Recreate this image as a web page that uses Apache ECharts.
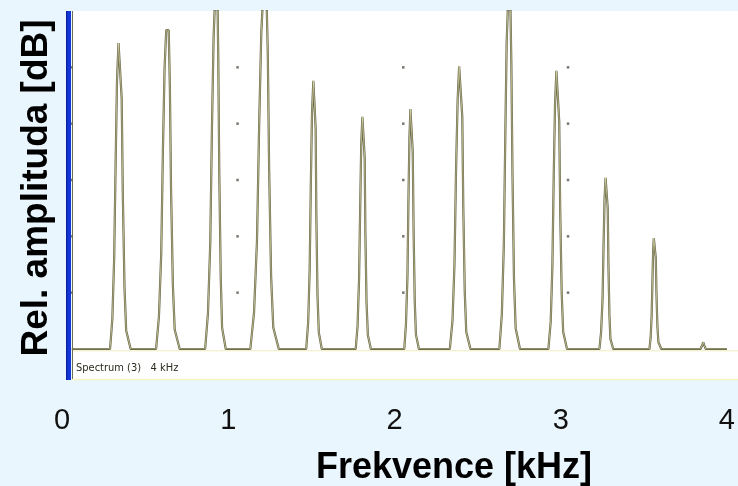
<!DOCTYPE html>
<html>
<head>
<meta charset="utf-8">
<script src="https://cdn.jsdelivr.net/npm/echarts@6/dist/echarts.min.js"></script>
<style>
html,body{margin:0;padding:0;background:#eaf6fd;}
#chart{width:738px;height:486px;}
</style>
</head>
<body>
<div id="chart"></div>
<script>
// Spectrum trace: frequency (kHz) and relative amplitude (dB above floor)
var freqKHz = [
  0.059,
  0.289,0.303,0.314,0.323,0.331,0.340,0.352,0.359,0.366,0.376,0.386,0.413,
  0.566,0.583,0.597,0.607,0.617,0.627,0.642,0.649,0.656,0.667,0.678,0.708,
  0.861,0.878,0.892,0.902,0.912,0.922,0.935,0.940,0.946,0.955,0.963,0.985,
  1.133,1.155,1.173,1.186,1.199,1.212,1.229,1.238,1.246,1.258,1.271,1.304,
  1.469,1.481,1.490,1.497,1.504,1.512,1.521,1.526,1.530,1.537,1.545,1.563,
  1.767,1.778,1.787,1.794,1.800,1.807,1.816,1.821,1.825,1.832,1.840,1.858,
  2.059,2.069,2.078,2.084,2.090,2.096,2.105,2.110,2.115,2.122,2.129,2.147,
  2.333,2.349,2.361,2.370,2.380,2.389,2.401,2.408,2.414,2.423,2.432,2.457,
  2.631,2.646,2.658,2.667,2.675,2.684,2.697,2.703,2.710,2.719,2.729,2.755,
  2.926,2.940,2.950,2.958,2.966,2.974,2.985,2.991,2.997,3.006,3.015,3.038,
  3.233,3.243,3.252,3.258,3.264,3.270,3.278,3.283,3.287,3.293,3.299,3.316,
  3.534,3.541,3.547,3.552,3.556,3.560,3.568,3.572,3.576,3.582,3.588,3.605,
  3.841,3.853,3.858,3.864,3.873,
  4.000
];
var ampDb = [
  0,
  0,5.4,16.3,33.7,47.8,54.3,54.3,44.5,27.2,10.9,3.3,0,
  0,5.7,17.0,35.1,49.8,56.6,56.6,46.4,28.3,11.3,3.4,0,
  0,6.3,18.9,39.1,55.4,63.0,63.0,51.7,31.5,12.6,3.8,0,
  0,6.4,19.2,39.7,56.3,64.0,64.0,52.5,32.0,12.8,3.8,0,
  0,4.8,14.3,29.5,41.9,47.6,47.6,39.0,23.8,9.5,2.9,0,
  0,4.1,12.4,25.5,36.3,41.2,41.2,33.8,20.6,8.2,2.5,0,
  0,4.3,12.8,26.4,37.5,42.6,42.6,34.9,21.3,8.5,2.6,0,
  0,5.0,15.1,31.1,44.2,50.2,50.2,41.2,25.1,10.0,3.0,0,
  0,6.2,18.6,38.4,54.6,62.0,62.0,50.8,31.0,12.4,3.7,0,
  0,4.9,14.8,30.6,43.5,49.4,49.4,40.5,24.7,9.9,3.0,0,
  0,3.0,9.1,18.8,26.8,30.4,30.4,24.9,15.2,6.1,1.8,0,
  0,2.0,5.9,12.2,17.3,19.7,19.7,16.2,9.9,3.9,1.2,0,
  0,0.8,1.2,0.6,0,
  0
];
// Grid marker dots of the analyser display
var dotKHz = [0.059, 1.056, 2.053, 3.044];
var dotDb = [10, 20, 30, 40, 50];
// Axis tick labels
var xTicks = [0, 1, 2, 3, 4];
var xTitle = 'Frekvence [kHz]';
var yTitle = 'Rel. amplituda [dB]';
var panelLabel = 'Spectrum (3)   4 kHz';

var traceData = freqKHz.map(function (f, i) { return [f, ampDb[i]]; });
var dotData = [];
dotKHz.forEach(function (f) { dotDb.forEach(function (d) { dotData.push([f, d]); }); });

var chart = echarts.init(document.getElementById('chart'), null, {renderer: 'canvas'});
chart.setOption({
  animation: false,
  backgroundColor: '#eaf6fd',
  grid: {left: 62, top: 11, width: 678, height: 338, containLabel: false},
  xAxis: {
    type: 'value', min: xTicks[0], max: xTicks[xTicks.length - 1], interval: 1,
    axisLine: {show: false}, axisTick: {show: false}, splitLine: {show: false},
    axisLabel: {
      show: true, color: '#111', fontSize: 29, margin: 57,
      fontFamily: 'Liberation Sans, Arial, sans-serif'
    }
  },
  yAxis: {type: 'value', min: 0, max: 60, interval: 10, show: false},
  graphic: [
    {type: 'rect', shape: {x: 72, y: 11, width: 666, height: 368}, style: {fill: '#ffffff'}, z: -10, silent: true},
    {type: 'line', shape: {x1: 72, y1: 379.5, x2: 738, y2: 379.5}, style: {stroke: '#f6f4c2', lineWidth: 1.5}, z: -9, silent: true},
    {type: 'line', shape: {x1: 72, y1: 350.8, x2: 738, y2: 350.8}, style: {stroke: '#efedbd', lineWidth: 1}, z: -9, silent: true},
    {type: 'rect', shape: {x: 66, y: 11, width: 5, height: 369}, style: {fill: '#1236d6'}, z: 5, silent: true},
    {type: 'rect', shape: {x: 66, y: 11, width: 1.2, height: 369}, style: {fill: '#0a1f9c'}, z: 5, silent: true},
    {type: 'line', shape: {x1: 72.5, y1: 11, x2: 72.5, y2: 379}, style: {stroke: '#6d6c55', lineWidth: 1}, z: 5, silent: true},
    {type: 'text', x: 76, y: 368, style: {text: panelLabel, fill: '#2a2a1e', font: '11px "DejaVu Sans Condensed", "Liberation Sans", Arial, sans-serif', textVerticalAlign: 'middle', textAlign: 'left'}, z: 6, silent: true},
    {type: 'text', x: 37, y: 188, rotation: Math.PI / 2, style: {text: yTitle, fill: '#000', font: 'bold 37px "Liberation Sans", Arial, sans-serif', textAlign: 'center', textVerticalAlign: 'middle'}, z: 6, silent: true},
    {type: 'text', x: 454, y: 468, style: {text: xTitle, fill: '#000', font: 'bold 36px "Liberation Sans", Arial, sans-serif', textAlign: 'center', textVerticalAlign: 'middle'}, z: 6, silent: true}
  ],
  series: [
    {
      type: 'line', data: traceData, symbol: 'none', clip: true,
      lineStyle: {color: '#66654a', width: 2.2}, z: 3
    },
    {
      type: 'line', data: traceData, symbol: 'none', clip: true,
      lineStyle: {color: '#eeecb4', width: 0.6}, z: 4, silent: true
    },
    {
      type: 'scatter', data: dotData, symbol: 'rect', symbolSize: 2.5,
      itemStyle: {color: '#555548'}, z: 2, silent: true
    }
  ]
});
</script>
</body>
</html>
